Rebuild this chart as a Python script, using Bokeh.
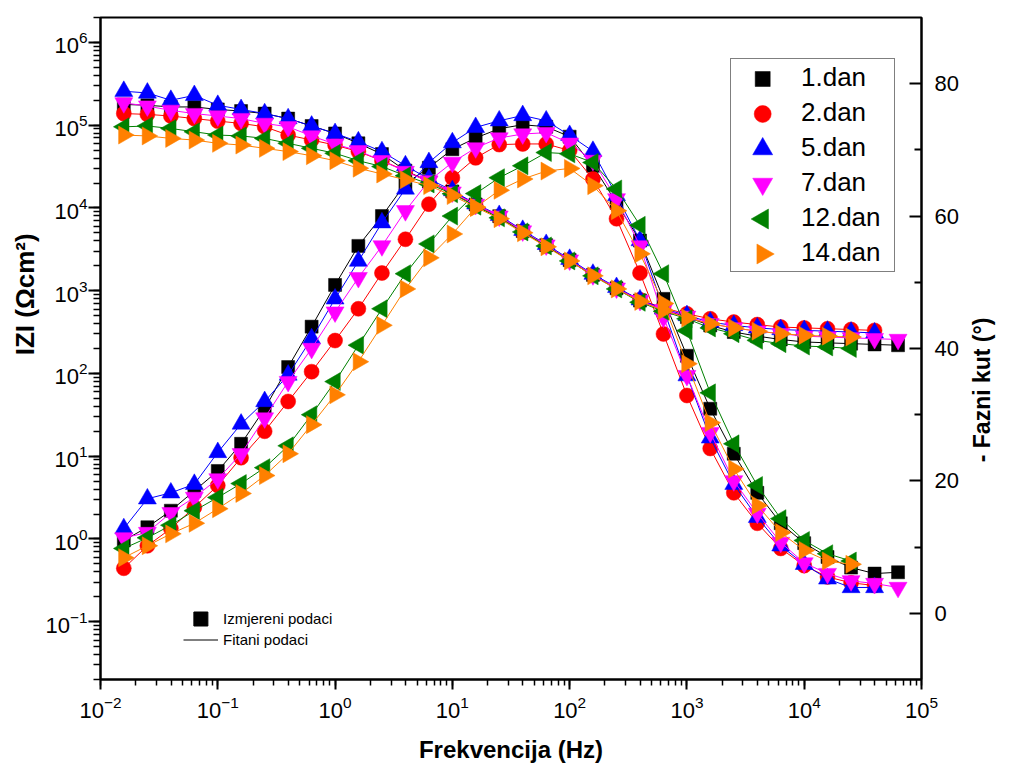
import math
from bokeh.plotting import figure
from bokeh.models import Range1d, LinearAxis, LinearScale, FixedTicker, Legend, LegendItem
from bokeh.embed import file_html
from bokeh.resources import INLINE

# Frequencies (Hz)
freq = [0.0158, 0.0251, 0.0398, 0.0631, 0.1, 0.158, 0.251, 0.398, 0.631, 1.0,
        1.58, 2.51, 3.98, 6.31, 10.0, 15.8, 25.1, 39.8, 63.1, 100.0,
        158.0, 251.0, 398.0, 631.0, 1000.0, 1580.0, 2510.0, 3980.0, 6310.0, 10000.0,
        15800.0, 25100.0, 39800.0, 63100.0]

labels = ["1.dan", "2.dan", "5.dan", "7.dan", "12.dan", "14.dan"]
colors = ["#000000", "#FF0000", "#0000FF", "#FF00FF", "#008000", "#FF8000"]

# |Z| (Ohm cm2)
z_d1 = [1.78e5, 1.74e5, 1.66e5, 1.66e5, 1.55e5, 1.48e5, 1.38e5, 1.20e5, 9.77e4, 7.94e4,
        6.03e4, 4.47e4, 2.82e4, 2.09e4, 1.58e4, 1.10e4, 7940, 5250, 3550, 2340,
        1550, 1070, 759, 589, 479, 380, 316, 282, 257, 240, 234, 229, 224, 219]
z_d2 = [1.38e5, 1.35e5, 1.29e5, 1.20e5, 1.12e5, 1.05e5, 9.55e4, 7.59e4, 6.61e4, 5.75e4,
        4.79e4, 3.72e4, 2.82e4, 2.04e4, 1.51e4, 1.07e4, 7760, 5130, 3470, 2340,
        1550, 1070, 776, 617, 525, 457, 417, 389, 363, 355, 347, 339, 331]
z_d5 = [2.57e5, 2.45e5, 2.00e5, 2.29e5, 1.74e5, 1.55e5, 1.38e5, 1.20e5, 9.77e4, 7.94e4,
        6.31e4, 4.79e4, 3.24e4, 2.24e4, 1.62e4, 1.12e4, 8130, 5370, 3630, 2400,
        1585, 1096, 776, 603, 501, 417, 380, 355, 339, 331, 324, 316, 309]
z_d7 = [1.86e5, 1.70e5, 1.51e5, 1.38e5, 1.29e5, 1.20e5, 1.05e5, 9.55e4, 7.41e4, 5.89e4,
        4.90e4, 3.72e4, 2.75e4, 2.09e4, 1.55e4, 1.10e4, 7940, 5250, 3550, 2340,
        1550, 1070, 759, 589, 490, 398, 355, 324, 302, 282, 275, 269, 263, 257]
z_d12 = [9.55e4, 9.77e4, 9.12e4, 8.32e4, 7.59e4, 7.41e4, 6.92e4, 6.03e4, 5.25e4, 4.57e4,
         3.72e4, 3.16e4, 2.45e4, 1.95e4, 1.48e4, 1.05e4, 7590, 5130, 3470, 2290,
         1510, 1050, 724, 562, 457, 355, 302, 251, 229, 214, 209, 200]
z_d14 = [7.59e4, 7.41e4, 6.92e4, 6.61e4, 6.03e4, 5.75e4, 5.25e4, 4.79e4, 4.27e4, 3.72e4,
         3.02e4, 2.57e4, 2.19e4, 1.86e4, 1.41e4, 1.02e4, 7410, 5010, 3390, 2290,
         1510, 1050, 741, 575, 468, 398, 355, 324, 302, 288, 282, 275]

# -phase angle (deg)
ph_d1 = [11.0, 13.0, 15.5, 18.5, 21.5, 25.6, 30.9, 37.2, 43.3, 49.6,
         55.5, 60.0, 64.9, 67.3, 70.1, 71.8, 73.2, 73.8, 73.5, 72.0,
         67.6, 62.0, 56.3, 47.5, 38.9, 30.9, 24.1, 18.2, 13.6, 10.6,
         8.5, 6.9, 6.0, 6.2]
ph_d2 = [6.8, 10.2, 12.8, 16.0, 19.3, 23.5, 27.5, 32.0, 36.5, 41.2,
         46.0, 51.4, 56.5, 61.8, 65.8, 68.8, 70.8, 70.9, 70.9, 69.9,
         65.6, 59.6, 51.4, 42.2, 32.9, 24.9, 18.2, 13.6, 9.8, 7.2,
         5.5, 4.6, 4.2]
ph_d5 = [12.8, 17.3, 18.2, 19.5, 24.3, 28.6, 32.0, 36.0, 41.5, 47.5,
         53.2, 59.0, 64.1, 68.1, 71.1, 73.4, 74.4, 75.2, 74.4, 72.2,
         69.8, 63.1, 56.3, 46.0, 35.9, 26.5, 19.5, 14.5, 10.2, 7.4,
         5.2, 3.9, 3.9]
ph_d7 = [11.4, 12.2, 15.2, 17.5, 20.3, 24.1, 29.5, 35.0, 40.0, 45.5,
         50.7, 55.5, 60.8, 65.3, 68.1, 70.3, 71.8, 72.4, 72.6, 71.0,
         68.4, 62.6, 55.5, 44.7, 35.9, 27.3, 20.0, 15.1, 10.7, 7.6,
         6.0, 4.9, 4.5, 3.9]
ph_d12 = [9.8, 11.4, 13.3, 15.5, 17.5, 19.6, 22.0, 25.3, 30.0, 35.0,
          40.5, 46.0, 51.3, 55.8, 60.0, 63.4, 65.8, 67.6, 69.6, 69.4,
          68.1, 64.1, 58.6, 51.3, 42.7, 33.3, 25.6, 19.3, 14.3, 11.0,
          9.0, 7.9]
ph_d14 = [8.4, 10.2, 12.0, 13.6, 15.8, 18.1, 20.8, 24.1, 28.5, 33.0,
          38.0, 43.5, 49.0, 53.7, 57.3, 61.3, 63.9, 65.6, 66.8, 67.2,
          64.6, 60.8, 54.3, 46.8, 37.7, 28.8, 21.8, 16.3, 12.2, 9.5,
          7.9, 7.4]

z_series = [z_d1, z_d2, z_d5, z_d7, z_d12, z_d14]
ph_series = [ph_d1, ph_d2, ph_d5, ph_d7, ph_d12, ph_d14]

# ---- layout (pixels) ----
W, H = 1010, 768
FL, FT, FR, FB = 100, 17, 88, 89          # borders around the frame
FW, FH = W - FL - FR, H - FT - FB
X0, X1 = 0.01, 1e5
Y0, Y1 = 0.02, 2e6
P0, P1 = -10.0, 90.0

TICK_FONT = "Liberation Sans"
NB = "\u00a0"


def sx_to_x(sx):
    return 10 ** (math.log10(X0) + (math.log10(X1) - math.log10(X0)) * sx / FW)


def sy_to_phase(sy):
    return P1 - (P1 - P0) * sy / FH


def sy_to_z(sy):
    return 10 ** (math.log10(Y1) - (math.log10(Y1) - math.log10(Y0)) * sy / FH)


p = figure(width=W, height=H, x_axis_type="log", y_axis_type="log",
           x_range=Range1d(X0, X1), y_range=Range1d(Y0, Y1),
           output_backend="svg", toolbar_location=None,
           min_border_left=FL, min_border_right=FR, min_border_top=FT, min_border_bottom=FB)
p.extra_y_ranges = {"phase": Range1d(P0, P1)}
p.extra_y_scales = {"phase": LinearScale()}
p.grid.visible = False
p.outline_line_color = "black"
p.outline_line_width = 2
p.background_fill_color = "white"
p.border_fill_color = "white"

xa = p.xaxis[0]
ya = p.yaxis[0]
for ax in (xa, ya):
    ax.axis_line_width = 2
    ax.major_tick_line_width = 2
    ax.minor_tick_line_width = 1.5
    ax.major_tick_in = 0
    ax.minor_tick_in = 0
    ax.major_label_text_font = TICK_FONT
    ax.major_label_text_font_size = "22px"
    ax.major_label_text_color = "black"
    ax.axis_label_text_font = "Liberation Sans"
    ax.axis_label_text_font_style = "bold"
    ax.axis_label_text_color = "black"

ya.major_tick_out = 12
ya.minor_tick_out = 7
ya.major_label_standoff = 1
ya.axis_label = NB * 15 + "IZI (Ωcm²)"
ya.axis_label_text_font_size = "26px"
ya.axis_label_standoff = 2

xa.major_tick_out = 10
xa.minor_tick_out = 6
xa.major_label_standoff = 6
xa.axis_label = "Frekvencija (Hz)"
xa.axis_label_text_font_size = "24px"
xa.axis_label_standoff = 15

ax2 = LinearAxis(y_range_name="phase",
                 ticker=FixedTicker(ticks=[0, 20, 40, 60, 80], minor_ticks=[10, 30, 50, 70]))
ax2.axis_line_width = 2
ax2.major_tick_line_width = 2
ax2.minor_tick_line_width = 2
ax2.major_tick_in = 12
ax2.major_tick_out = 0
ax2.minor_tick_in = 7
ax2.minor_tick_out = 0
ax2.major_label_text_font = TICK_FONT
ax2.major_label_text_font_size = "22px"
ax2.major_label_text_color = "black"
ax2.major_label_standoff = 13
right_title = "- Fazni kut (°)"
if "axis_label_align" in ax2.properties():
    # anchor the (bottom-to-top) title at the bottom of the axis, lift it with leading spaces
    ax2.axis_label_align = "start"
    ax2.axis_label = NB * 34 + right_title
else:
    ax2.axis_label = right_title
ax2.axis_label_orientation = math.pi / 2
ax2.axis_label_text_font = "Liberation Sans"
ax2.axis_label_text_font_size = "23px"
ax2.axis_label_text_font_style = "bold"
ax2.axis_label_text_color = "black"
ax2.axis_label_standoff = 20
p.add_layout(ax2, "right")

markers = [("square", 0.0, 13), ("circle", 0.0, 15), ("triangle", 0.0, 18),
           ("inverted_triangle", 0.0, 18), ("triangle", math.pi / 2, 18),
           ("triangle", -math.pi / 2, 18)]

z_renderers = []
line_renderers = []
for i in range(6):
    zs = z_series[i]
    ps = ph_series[i]
    c = colors[i]
    mk, ang, sz = markers[i]
    lz = p.line(freq[:len(zs)], zs, line_color=c, line_width=1)
    p.line(freq[:len(ps)], ps, line_color=c, line_width=1, y_range_name="phase")
    line_renderers.append(lz)
    rz = p.scatter(freq[:len(zs)], zs, marker=mk, angle=ang, size=sz,
                   fill_color=c, line_color=c, line_width=0.5)
    p.scatter(freq[:len(ps)], ps, marker=mk, angle=ang, size=sz,
              fill_color=c, line_color=c, line_width=0.5, y_range_name="phase")
    z_renderers.append(rz)

blank = p.scatter([], [], marker="square", size=1, fill_alpha=0, line_alpha=0)

# ---- legend 1 (labels via Legend, keys drawn so that rotated triangles keep their direction) ----
L_X, L_Y = 630, 407            # legend lower-left, relative to frame lower-left
L_PAD, L_ROW, L_GW, L_STAND, L_LW = 1, 35, 64, 5, 92
n_items = len(labels)
L_HEIGHT = 2 * L_PAD + n_items * L_ROW

legend = Legend(items=[LegendItem(label=labels[i], renderers=[blank]) for i in range(n_items)],
                location=(L_X, L_Y))
legend.label_text_font = "Liberation Sans"
legend.label_text_font_size = "26px"
legend.label_text_color = "black"
legend.glyph_width = L_GW
legend.glyph_height = L_ROW
legend.label_height = L_ROW
legend.label_width = L_LW
legend.label_standoff = L_STAND
legend.spacing = 0
legend.padding = L_PAD
legend.margin = 0
legend.border_line_color = "black"
legend.border_line_width = 1
legend.background_fill_alpha = 0
p.add_layout(legend)

key_x = sx_to_x(L_X + L_PAD + L_GW / 2.0)
legend_top = FH - L_Y - L_HEIGHT
for i in range(n_items):
    ky = sy_to_phase(legend_top + L_PAD + L_ROW * (i + 0.5))
    mk, ang, sz = markers[i]
    p.scatter([key_x], [ky], marker=mk, angle=ang, size=sz + 2,
              fill_color=colors[i], line_color=colors[i], line_width=0.5,
              y_range_name="phase")

# ---- legend 2 ----
L2_X, L2_Y, L2_ROW, L2_GW = 83, 29, 21, 35
legend2 = Legend(items=[LegendItem(label="Izmjereni podaci", renderers=[blank]),
                        LegendItem(label="Fitani podaci", renderers=[line_renderers[0]])],
                 location=(L2_X, L2_Y))
legend2.label_text_font = "Liberation Sans"
legend2.label_text_font_size = "15px"
legend2.label_text_color = "black"
legend2.glyph_width = L2_GW
legend2.glyph_height = L2_ROW
legend2.label_height = L2_ROW
legend2.label_standoff = 5
legend2.spacing = 0
legend2.padding = 0
legend2.margin = 0
legend2.border_line_color = None
legend2.background_fill_alpha = 0
p.add_layout(legend2)

sq_x = sx_to_x(L2_X + L2_GW / 2.0)
sq_y = sy_to_z(FH - L2_Y - 2 * L2_ROW + L2_ROW / 2.0)
p.scatter([sq_x], [sq_y], marker="square", size=14, fill_color="black", line_color="black")

open("out.html", "w").write(file_html(p, INLINE))
